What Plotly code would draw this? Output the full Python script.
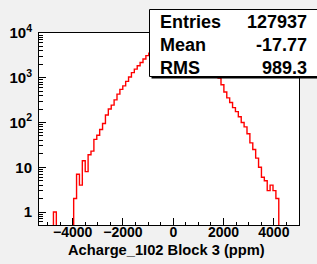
import numpy as np
import plotly.graph_objects as go

# ---- data ----
x_min, x_max, n_bins = -5340.0, 5000.0, 90
counts = [0, 0, 0, 0, 0, 1, 0, 0, 0, 0,
          0, 0, 2, 7, 4, 14, 8, 19, 23, 42,
          52, 70, 95, 147, 200, 245, 320, 430, 550, 660,
          830, 1040, 1300, 1560, 1850, 2200, 2620, 3120, 3550, 3870,
          4215, 4530, 4800, 5020, 5180, 5275, 5300, 5250, 5130, 4950,
          4715, 4425, 4100, 3745, 3380, 3000, 2635, 2280, 1950, 1645,
          1368, 1180, 980, 700, 480, 355, 280, 215, 175, 135,
          100, 80, 56, 35, 25, 16, 10, 6, 5, 3,
          4, 3, 2, 0, 0, 0, 0, 0, 0, 0]
stats_labels = ["Entries", "Mean", "RMS"]
stats_values = ["127937", "-17.77", "989.3"]
x_title = "Acharge_1I02 Block 3 (ppm)"
x_tick0, x_dtick, x_minor_dtick = 0, 2000, 500
y_tick_vals = [1, 10, 100, 1000, 10000]
y_tick_text = ["1", "10", "10<sup>2</sup>", "10<sup>3</sup>", "10<sup>4</sup>"]

# ---- geometry ----
W, H = 317, 264
L, R, T, B = 39, 18, 33, 39
PW, PH = W - L - R, H - T - B

def px2x(px):
    return (px - L) / PW

def py2y(py):
    return (H - B - py) / PH

edges = np.linspace(x_min, x_max, n_bins + 1)
floor = 0.1  # empty bins drawn below the visible axis range
ys = [c if c > 0 else floor for c in counts]
ys = ys + [ys[-1]]

fig = go.Figure()
fig.add_trace(go.Scatter(
    x=edges, y=ys, mode="lines",
    line=dict(color="#ff0000", width=1.4, shape="hv"),
    hoverinfo="skip", showlegend=False))

font_family = "Liberation Sans, Arial, Helvetica, sans-serif"

minor_y = [m * 10.0 ** e for e in range(-1, 4) for m in range(2, 10)]

fig.update_layout(
    width=W, height=H,
    margin=dict(l=L, r=R, t=T, b=B, pad=0, autoexpand=False),
    paper_bgcolor="#f1f1f1", plot_bgcolor="#ffffff",
    font=dict(family=font_family, color="black"),
    showlegend=False,
    xaxis=dict(
        automargin=False,
        range=[x_min, x_max], tick0=x_tick0, dtick=x_dtick,
        ticks="inside", ticklen=7, tickwidth=1, tickcolor="black",
        minor=dict(tick0=x_tick0, dtick=x_minor_dtick, ticks="inside",
                   ticklen=3.5, tickwidth=1, tickcolor="black"),
        showline=True, linecolor="black", linewidth=1, mirror=True,
        showgrid=False, zeroline=False,
        tickfont=dict(size=14, family=font_family, weight="bold", color="black"),
        ticklabelstandoff=-6,
    ),
    yaxis=dict(
        automargin=False,
        type="log", range=[-0.29, 4.0],
        tickmode="array", tickvals=y_tick_vals, ticktext=y_tick_text,
        ticks="inside", ticklen=7, tickwidth=1, tickcolor="black",
        minor=dict(tickmode="array", tickvals=minor_y, ticks="inside",
                   ticklen=3.5, tickwidth=1, tickcolor="black"),
        showline=True, linecolor="black", linewidth=1, mirror=True,
        showgrid=False, zeroline=False,
        tickfont=dict(size=15, family=font_family, weight="bold", color="black"),
        ticklabelstandoff=3,
    ),
)

# stats box: shadow + white box
bx0, by0, bx1, by1 = 149.5, 9.5, 317.5, 76.5
fig.add_shape(type="rect", xref="paper", yref="paper", layer="above",
              x0=px2x(bx0 + 2), x1=px2x(bx1 + 2), y0=py2y(by0 + 2), y1=py2y(by1 + 2),
              fillcolor="black", line=dict(width=0))
fig.add_shape(type="rect", xref="paper", yref="paper", layer="above",
              x0=px2x(bx0), x1=px2x(bx1), y0=py2y(by0), y1=py2y(by1),
              fillcolor="white", line=dict(color="black", width=1))

row_y = [21.7, 45.0, 68.3]
for lab, val, ry in zip(stats_labels, stats_values, row_y):
    fig.add_annotation(x=px2x(157.5), y=py2y(ry), xref="paper", yref="paper",
                       text=lab, showarrow=False, xanchor="left", yanchor="middle",
                       font=dict(size=18, family=font_family, weight="bold", color="black"))
    fig.add_annotation(x=px2x(308.5), y=py2y(ry), xref="paper", yref="paper",
                       text=val, showarrow=False, xanchor="right", yanchor="middle",
                       font=dict(size=18, family=font_family, weight="bold", color="black"))

fig.add_annotation(x=px2x(267), y=py2y(249.5), xref="paper", yref="paper",
                   text=x_title, showarrow=False, xanchor="right", yanchor="middle",
                   font=dict(size=14.7, family=font_family, weight="bold", color="black"))

fig.write_html("out.html",
               config={"displayModeBar": False, "staticPlot": True},
               post_script="document.body.style.margin='0px';document.body.style.overflow='hidden';")
